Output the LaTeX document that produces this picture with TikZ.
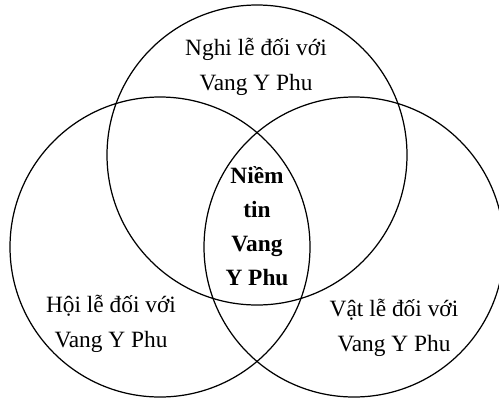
\documentclass[tikz,border=0pt]{standalone}
\usepackage{fontspec}
\setmainfont{Liberation Serif}
\usepackage{tikz}
\usetikzlibrary{positioning}

\tikzset{
  ring/.style={draw=black,line width=0.7pt},
  setlbl/.style={font=\fontsize{13.3}{20}\selectfont,align=center,inner sep=0pt},
  corelbl/.style={setlbl,font=\fontsize{13.3}{19.3}\selectfont\bfseries}
}

\begin{document}
\begin{tikzpicture}[x=0.02cm,y=0.02cm]
    \useasboundingbox (0,0) rectangle (499,400);
    % three sets
    \draw[ring] (257,245) circle[radius=150];
    \draw[ring] (160,153) circle[radius=150];
    \draw[ring] (354,153) circle[radius=150];
    % labels
    \node[setlbl] (nghile) at (256,333) {Nghi lễ đối với\\Vang Y Phu};
    \node[setlbl] (hoile) at (111,76) {Hội lễ đối với\\Vang Y Phu};
    \node[setlbl] (vatle) at (394,72) {Vật lễ đối với\\Vang Y Phu};
    \node[corelbl] (niemtin) at (257,174) {Niềm\\tin\\Vang\\Y Phu};
\end{tikzpicture}
\end{document}
